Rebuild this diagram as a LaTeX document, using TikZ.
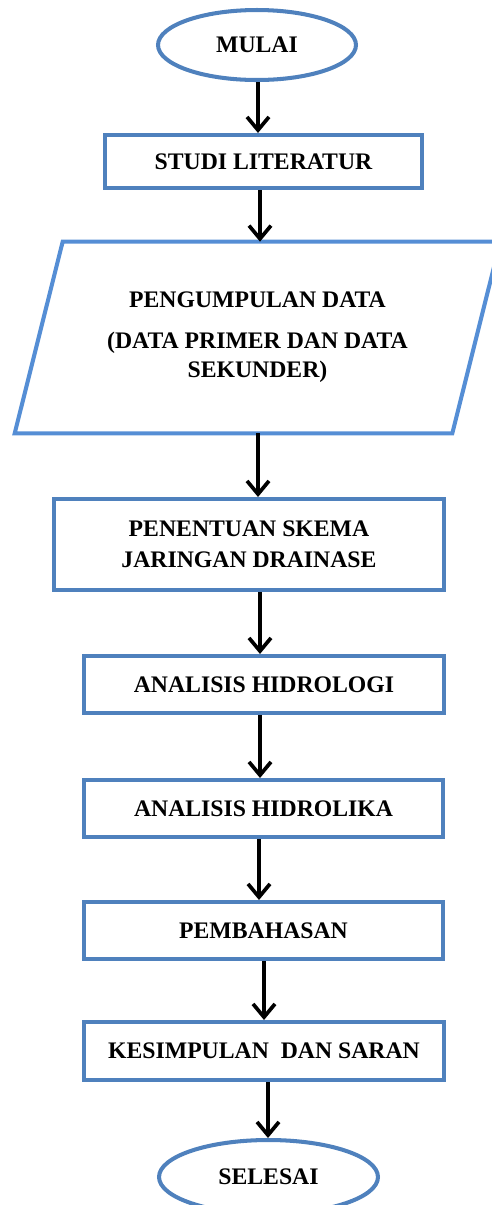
\documentclass[tikz,border=0pt]{standalone}
\usepackage{fontspec}
\setmainfont{Liberation Serif}
\usetikzlibrary{shapes.geometric,arrows.meta}
\definecolor{boxblue}{RGB}{79,129,189}
\definecolor{datablue}{RGB}{85,142,213}
\begin{document}
\begin{tikzpicture}[x=0.02cm,y=-0.02cm,
    every node/.style={font=\fontsize{13.5}{16.5}\selectfont\bfseries,align=center,inner sep=0pt},
    terminal/.style={ellipse,draw=boxblue,line width=2.3pt},
    proses/.style={rectangle,draw=boxblue,line width=2.3pt,minimum width=7.2cm,minimum height=1.14cm},
    arr/.style={line width=2.1pt,-{Straight Barb[length=7.5pt,width=12.5pt]}}]
    \useasboundingbox (0,0) rectangle (491,1205);
    \node[terminal,minimum width=3.96cm,minimum height=1.4cm] (mulai) at (257,45) {MULAI};
    \node[proses,minimum width=6.34cm,minimum height=1.06cm] (studi) at (263.5,161.5) {STUDI LITERATUR};
    \node[minimum width=8.74cm,minimum height=3.82cm] (data) at (257.5,337.5)
        {PENGUMPULAN DATA\\[7pt](DATA PRIMER DAN DATA\\SEKUNDER)};
    \draw[datablue,line width=2.3pt] ([xshift=-0.48cm]data.south west) -- ([xshift=0.48cm]data.north west)
        -- ([xshift=0.48cm]data.north east) -- ([xshift=-0.48cm]data.south east) -- cycle;
    \node[proses,minimum width=7.8cm,minimum height=1.82cm] (skema) at (249,544.5) {PENENTUAN SKEMA\\[1pt]JARINGAN DRAINASE};
    \node[proses] (hidrologi) at (264,684.5) {ANALISIS HIDROLOGI};
    \node[proses] (hidrolika) at (263.5,808.5) {ANALISIS HIDROLIKA};
    \node[proses] (bahas) at (263.5,930.5) {PEMBAHASAN};
    \node[proses,minimum height=1.16cm] (simpul) at (264,1051) {KESIMPULAN\ \ DAN SARAN};
    \node[terminal,minimum width=4.38cm,minimum height=1.48cm] (selesai) at (268.5,1177) {SELESAI};
    \foreach \a/\b/\x in {mulai/studi/258,studi/data/260,data/skema/258,skema/hidrologi/260,
        hidrologi/hidrolika/260,hidrolika/bahas/259,bahas/simpul/264,simpul/selesai/268}
        \draw[arr] (\x,0 |- \a.south) -- (\x,0 |- \b.north);
\end{tikzpicture}
\end{document}
